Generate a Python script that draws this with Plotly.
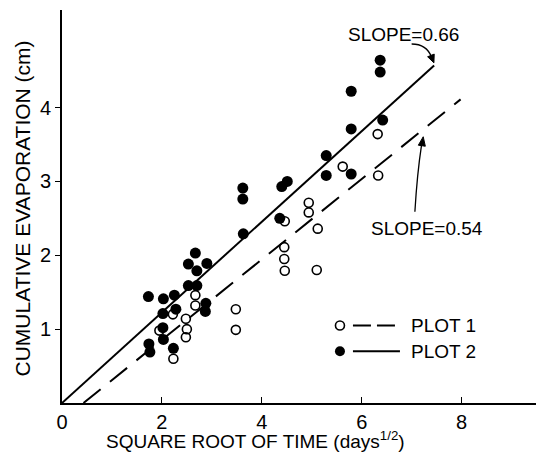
import plotly.graph_objects as go

# ---- data ----
plot1_x = [2.22, 1.95, 2.48, 2.50, 2.48, 2.23, 2.67, 2.67, 3.48, 3.48, 4.46,
           4.94, 4.94, 5.12, 4.45, 4.45, 4.46, 5.10, 5.62, 6.32, 6.33]
plot1_y = [1.20, 0.98, 1.14, 1.00, 0.89, 0.60, 1.46, 1.32, 1.27, 0.99, 2.46,
           2.71, 2.58, 2.36, 2.11, 1.95, 1.79, 1.80, 3.20, 3.64, 3.08]

plot2_x = [1.73, 2.03, 2.25, 2.02, 2.28, 2.02, 1.74, 1.76, 2.03, 2.23, 2.53,
           2.67, 2.90, 2.70, 2.53, 2.70, 2.88, 2.87, 3.63, 3.62, 3.62, 4.40,
           4.51, 4.36, 5.29, 5.29, 5.79, 5.79, 5.79, 6.37, 6.37, 6.42]
plot2_y = [1.44, 1.41, 1.46, 1.21, 1.27, 1.02, 0.80, 0.69, 0.86, 0.74, 1.88,
           2.03, 1.89, 1.79, 1.59, 1.59, 1.35, 1.24, 2.29, 2.91, 2.76, 2.93,
           3.00, 2.50, 3.35, 3.08, 4.22, 3.71, 3.10, 4.64, 4.48, 3.83]

line1_x = [0.43, 7.98]   # dashed, plot 1
line1_y = [0.0, 4.11]
line2_x = [0.0, 7.45]    # solid, plot 2
line2_y = [0.0, 4.57]

x_ticks = [0, 2, 4, 6, 8]
y_ticks = [1, 2, 3, 4]

FONT = "Liberation Sans"

fig = go.Figure()

fig.add_trace(go.Scatter(x=line1_x, y=line1_y, mode="lines",
                         line=dict(color="black", width=2, dash="22px,12px"),
                         showlegend=False, hoverinfo="skip"))
fig.add_trace(go.Scatter(x=line2_x, y=line2_y, mode="lines",
                         line=dict(color="black", width=2),
                         showlegend=False, hoverinfo="skip"))
fig.add_trace(go.Scatter(x=plot1_x, y=plot1_y, mode="markers",
                         marker=dict(symbol="circle-open", size=9, color="black",
                                     line=dict(width=1.6, color="black")),
                         showlegend=False))
fig.add_trace(go.Scatter(x=plot2_x, y=plot2_y, mode="markers",
                         marker=dict(symbol="circle", size=11, color="black"),
                         showlegend=False))

# legend glyphs drawn manually
leg_marker_x = 5.565
leg_line_x0, leg_line_x1 = 5.825, 6.766
leg_text_x = 6.95
leg_rows = [1.05, 0.70]

fig.add_trace(go.Scatter(x=[leg_marker_x], y=[leg_rows[0]], mode="markers",
                         marker=dict(symbol="circle-open", size=9, color="black",
                                     line=dict(width=1.6, color="black")),
                         showlegend=False, hoverinfo="skip"))
fig.add_trace(go.Scatter(x=[leg_marker_x], y=[leg_rows[1]], mode="markers",
                         marker=dict(symbol="circle", size=10, color="black"),
                         showlegend=False, hoverinfo="skip"))
fig.add_shape(type="line", x0=leg_line_x0, x1=leg_line_x1, y0=leg_rows[0], y1=leg_rows[0],
              line=dict(color="black", width=2, dash="18px,6px"))
fig.add_shape(type="line", x0=leg_line_x0, x1=leg_line_x1, y0=leg_rows[1], y1=leg_rows[1],
              line=dict(color="black", width=2))
for txt, yy in zip(["PLOT 1", "PLOT 2"], leg_rows):
    fig.add_annotation(x=leg_text_x, y=yy, text=txt, showarrow=False, xanchor="left",
                       yanchor="middle", font=dict(family=FONT, size=19, color="black"))

# slope labels
fig.add_annotation(x=6.83, y=4.99, text="SLOPE=0.66", showarrow=False,
                   font=dict(family=FONT, size=19, color="black"))
fig.add_annotation(x=7.30, y=2.36, text="SLOPE=0.54", showarrow=False,
                   font=dict(family=FONT, size=19, color="black"))

# curved arrow to the solid line end
fig.add_shape(type="path", path="M 7.0,4.86 Q 7.30,4.86 7.40,4.68",
              line=dict(color="black", width=1.3))
fig.add_shape(type="path", path="M 7.446,4.605 L 7.452,4.723 L 7.320,4.687 Z",
              line=dict(color="black", width=1), fillcolor="black")
# arrow to dashed line
fig.add_shape(type="path", path="M 7.065,2.59 Q 7.11,3.10 7.20,3.50",
              line=dict(color="black", width=1.3))
fig.add_shape(type="path", path="M 7.232,3.604 L 7.274,3.476 L 7.134,3.490 Z",
              line=dict(color="black", width=1), fillcolor="black")

# axis titles
fig.add_annotation(x=0.402, xref="paper", y=-0.094, yref="paper", yanchor="middle",
                   text="SQUARE ROOT OF TIME (days<sup>1/2</sup>)", showarrow=False,
                   font=dict(family=FONT, size=19, color="black"))
fig.add_annotation(x=-0.083, xref="paper", y=0.495, yref="paper", textangle=-90,
                   xanchor="center", yanchor="middle",
                   text="CUMULATIVE EVAPORATION (cm)", showarrow=False,
                   font=dict(family=FONT, size=21, color="black"))

fig.update_layout(
    width=536, height=455,
    margin=dict(l=54, r=0, t=2, b=60),
    plot_bgcolor="white", paper_bgcolor="white",
    showlegend=False,
    font=dict(family=FONT, color="black"),
)
fig.update_xaxes(range=[0, 9.65], tickvals=x_ticks, ticktext=[str(v) for v in x_ticks],
                 showgrid=False, zeroline=False, showline=True, linecolor="black",
                 linewidth=2, ticks="inside", ticklen=6, tickwidth=1.3, tickcolor="black",
                 tickfont=dict(family=FONT, size=20, color="black"), automargin=False)
fig.update_yaxes(range=[0, 5.32], tickvals=y_ticks, ticktext=[str(v) for v in y_ticks],
                 showgrid=False, zeroline=False, showline=True, linecolor="black",
                 linewidth=2, ticks="outside", ticklen=5, tickwidth=1.3, tickcolor="black",
                 tickfont=dict(family=FONT, size=20, color="black"), automargin=False)

fig.write_html("out.html")
